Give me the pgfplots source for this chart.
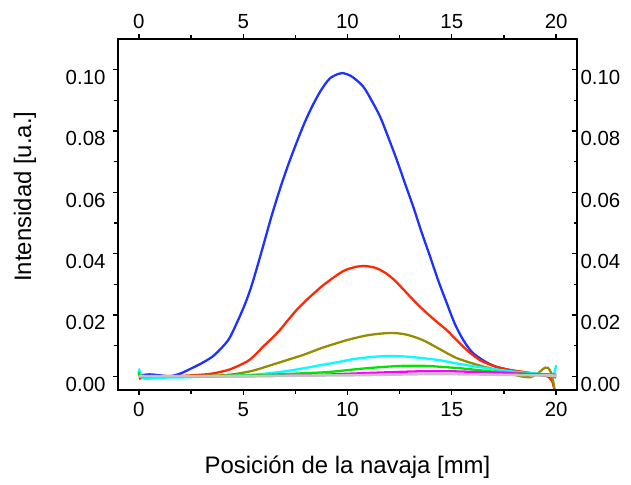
\documentclass[border=0pt]{standalone}
\usepackage{pgfplots}
\pgfplotsset{compat=1.18}
\usepackage{fontspec}
\setmainfont{Liberation Sans}
\definecolor{cblue}{RGB}{30,50,255}
\definecolor{cred}{RGB}{255,40,0}
\definecolor{colive}{RGB}{150,140,0}
\definecolor{ccyan}{RGB}{0,255,255}
\definecolor{cgreen}{RGB}{0,230,0}
\definecolor{cmag}{RGB}{255,0,255}
\definecolor{cgray}{RGB}{195,195,195}
\begin{document}
\begin{tikzpicture}
\pgfplotsset{
  cv/.style={line width=2.3pt, smooth, tension=0.5},
  common/.style={
    scale only axis, width=459bp, height=351bp,
    xmin=-1, xmax=21, ymin=-0.0045, ymax=0.11,
    xtick={0,5,10,15,20}, minor x tick num=1,
    ytick={0,0.02,0.04,0.06,0.08,0.10}, minor y tick num=1,
    /pgf/number format/assume math mode=true,
    tick label style={font=\fontsize{20.5}{25}\selectfont},
    yticklabel style={/pgf/number format/fixed, /pgf/number format/fixed zerofill, /pgf/number format/precision=2, yshift=-8bp},
    scaled y ticks=false,
    major tick length=5bp, minor tick length=3.5bp,
    every tick/.style={black, line width=1.3pt},
    axis line style={line width=1.4pt},
  }
}
\begin{axis}[common,
  tick align=outside,
  xtick pos=left, ytick pos=left,
  xticklabel style={yshift=-4bp},
  yticklabel style={xshift=-4bp},
  xlabel={Posición de la navaja [mm]},
  ylabel={Intensidad [u.a.]},
  label style={font=\fontsize{24}{28}\selectfont},
  xlabel style={at={(axis description cs:0.5,-0.2365)}, anchor=base},
  ylabel style={at={(axis description cs:-0.2026,0.551)}, anchor=center},
]
\addplot[cv, cblue] coordinates {(0,0.0002) (0.5,0.0006) (1,0.0003) (1.5,0.0) (2,0.0009) (2.5,0.0025) (3,0.0042) (3.55,0.0065) (4,0.0095) (4.35,0.0125) (4.83,0.0194) (5.16,0.0248) (5.47,0.031) (5.95,0.0423) (6.35,0.052) (6.75,0.0608) (7.15,0.0688) (7.56,0.0762) (7.95,0.0828) (8.35,0.0886) (8.75,0.0935) (9.15,0.0971) (9.55,0.0986) (9.76,0.0989) (10.2,0.0978) (10.75,0.0945) (11.15,0.090) (11.56,0.0847) (11.95,0.078) (12.36,0.0706) (12.75,0.063) (13.15,0.0553) (13.55,0.047) (13.96,0.039) (14.36,0.031) (14.76,0.0238) (15.15,0.017) (15.55,0.0118) (15.95,0.008) (16.36,0.0058) (16.75,0.0042) (17.16,0.003) (17.8,0.002) (18.43,0.0012) (19,0.0005) (19.5,0.0002) (20,0.0005)};
\addplot[cv, cred] coordinates {(0,-0.0008) (0.5,-0.0002) (1,0) (2,0.0001) (3,0.0005) (3.55,0.0009) (4.35,0.0022) (5.16,0.0047) (5.55,0.0068) (5.95,0.0096) (6.35,0.0122) (6.75,0.015) (7.15,0.0183) (7.56,0.0216) (7.95,0.0243) (8.35,0.0268) (8.75,0.0292) (9.15,0.0313) (9.63,0.0336) (9.96,0.0348) (10.5,0.0358) (10.92,0.0359) (11.4,0.0352) (11.88,0.0334) (12.3,0.031) (12.68,0.0283) (13.15,0.0249) (13.64,0.0216) (14.2,0.0182) (14.76,0.015) (15.15,0.0123) (15.55,0.0096) (15.95,0.0072) (16.36,0.0052) (16.75,0.004) (17.16,0.003) (17.8,0.002) (18.43,0.0014) (19,0.0008) (19.5,0.0002) (19.8,-0.0015) (20,-0.007)};
\addplot[cv, colive] coordinates {(0,0.0005) (0.3,0.0) (1,0) (2,0.0) (3,0.0001) (4,0.0003) (4.7,0.0008) (5.47,0.0018) (6.0,0.0029) (6.75,0.0045) (7.07,0.0052) (7.9,0.007) (8.68,0.009) (9.4,0.0106) (10.1,0.012) (11,0.0134) (12.04,0.0141) (12.8,0.0136) (13.6,0.0118) (14.43,0.0088) (15.2,0.006) (16.03,0.0041) (16.7,0.0028) (17.3,0.0018) (17.8,0.0009) (18.27,0.0) (18.76,-0.0003) (19.1,0.0008) (19.48,0.0028) (19.7,0.002) (19.88,-0.0024) (20,-0.009)};
\addplot[cv, ccyan] coordinates {(0,0.0025) (0.15,-0.0005) (0.5,-0.0008) (1,-0.0005) (2,-0.0004) (3,-0.0002) (4,0.0) (5,0.0003) (6,0.0008) (7,0.0016) (8,0.0027) (8.7,0.0036) (9.63,0.0047) (10.3,0.0056) (11.2,0.0063) (12.04,0.0066) (12.8,0.0064) (13.6,0.0059) (14.43,0.0052) (15.2,0.0042) (16,0.0033) (16.8,0.0025) (17.6,0.0018) (18.4,0.0012) (19.2,0.0008) (19.7,0.0005) (19.9,0.001) (20,0.0036)};
\addplot[cv, cgreen] coordinates {(0,0.0015) (0.1,0) (1,0) (3,0) (5,0.0002) (6,0.0004) (7,0.0007) (8,0.001) (9.15,0.0014) (10.75,0.0025) (12.36,0.0033) (13.6,0.0034) (14.6,0.003) (15.55,0.0025) (16.4,0.0019) (17.16,0.0014) (18.4,0.0009) (19.3,0.0005) (19.7,0.0003) (20,-0.0005)};
\addplot[cv, cmag] coordinates {(0,-0.0003) (1,0) (5,0.0) (8,0.0003) (10,0.0008) (12,0.0013) (13.5,0.0016) (15,0.0016) (16.5,0.0013) (18,0.0009) (19,0.0006) (20,0.0005)};
\addplot[cv, cgray, line width=2.6pt] coordinates {(0,0.0) (2,0.0) (5,0.0) (8,0.0002) (10,0.0003) (12,0.0005) (14,0.0007) (16,0.0006) (18,0.0004) (20,0.0002)};
\end{axis}
\begin{axis}[common,
  tick align=outside,
  xtick pos=right, xticklabel pos=right,
  xticklabel style={yshift=2bp},
  ytick=\empty,
]
\end{axis}
\begin{axis}[common,
  tick align=inside,
  xtick=\empty,
  ytick pos=right, yticklabel pos=right,
]
\end{axis}
\path (current axis.south west) ++(-118bp,-95bp) rectangle ++(631bp,485bp);
\end{tikzpicture}
\end{document}
